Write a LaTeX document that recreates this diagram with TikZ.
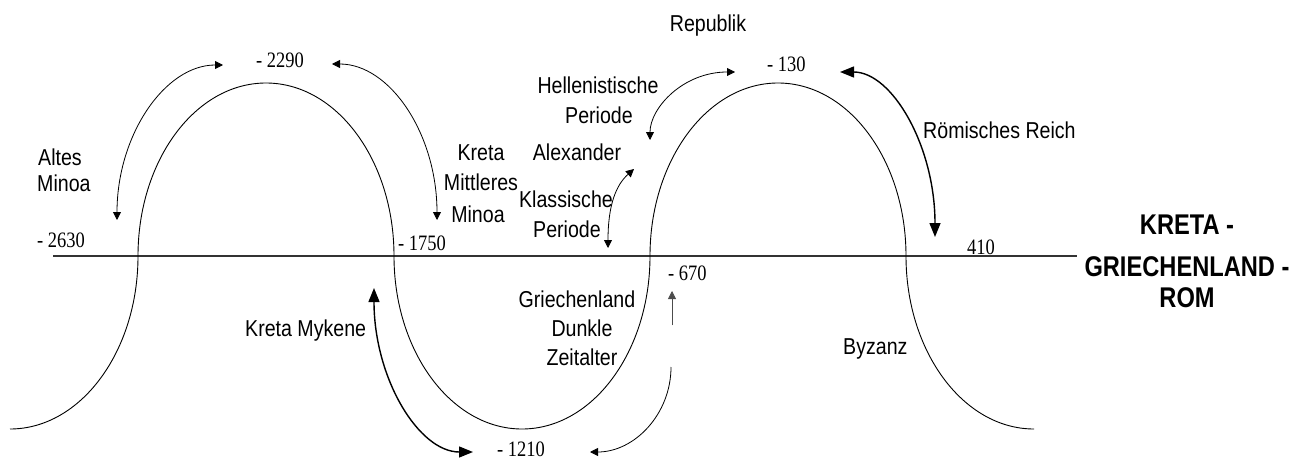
\documentclass[tikz,border=0pt]{standalone}
\usepackage{fontspec}
\setmainfont{Liberation Sans}
\newfontfamily\labfont[FakeStretch=0.852]{Liberation Sans}
\newfontfamily\numfont[FakeStretch=0.84]{Liberation Serif}
\newfontfamily\ttlfont[FakeStretch=0.83]{Liberation Sans}
\usetikzlibrary{arrows.meta}
\begin{document}
\begin{tikzpicture}[x=1pt,y=-1pt,
  lab/.style={font=\labfont\fontsize{23}{27}\selectfont, inner sep=0pt, anchor=base},
  labw/.style={lab, anchor=base west},
  num/.style={font=\numfont\fontsize{22}{26}\selectfont, inner sep=0pt, anchor=base west},
  ttl/.style={font=\ttlfont\bfseries\fontsize{28.5}{34}\selectfont, inner sep=0pt, anchor=base},
  wave/.style={line width=0.9pt},
  axisline/.style={line width=1.5pt, draw=black!80},
  arrsmall/.style={line width=0.8pt, {Triangle[length=8pt,width=8pt]}-{Triangle[length=8pt,width=8pt]}},
  arrbig/.style={line width=1.4pt, {Triangle[length=14pt,width=11pt]}-{Triangle[length=14pt,width=11pt]}},
  arrone/.style={line width=0.8pt, -{Triangle[length=8pt,width=8pt]}}
]
\useasboundingbox (0,0) rectangle (1309,460);

% axis
\coordinate (axL) at (53,256);
\coordinate (axR) at (1077,256);
\draw[axisline] (axL) -- (axR);

% wave
\coordinate (s0) at (10,429);
\coordinate (a1) at (138,256);
\coordinate (t1) at (266,83);
\coordinate (a2) at (394,256);
\coordinate (b1) at (522,429);
\coordinate (a3) at (650,256);
\coordinate (t2) at (778,83);
\coordinate (a4) at (906,256);
\coordinate (e0) at (1034,429);
\draw[wave] (s0) .. controls (80.7,429) and (138,351.5) .. (a1)
  .. controls (138,160.5) and (195.3,83) .. (t1)
  .. controls (336.7,83) and (394,160.5) .. (a2)
  .. controls (394,351.5) and (451.3,429) .. (b1)
  .. controls (592.7,429) and (650,351.5) .. (a3)
  .. controls (650,160.5) and (707.3,83) .. (t2)
  .. controls (848.7,83) and (906,160.5) .. (a4)
  .. controls (906,351.5) and (963.3,429) .. (e0);

% numbers
\node[num] (n2630) at (37,247) {- 2630};
\node[num] (n2290) at (256,67) {- 2290};
\node[num] (n1750) at (398,250) {- 1750};
\node[num] (n1210) at (497,456) {- 1210};
\node[num] (n670) at (668,280) {- 670};
\node[num] (n130) at (767,71) {- 130};
\node[num] (n410) at (967,254) {410};

% labels
\node[labw] (altes1) at (38,165) {Altes};
\node[labw] (altes2) at (37,191) {Minoa};
\node[lab] (kreta1) at (481,160) {Kreta};
\node[lab] (kreta2) at (481,190) {Mittleres};
\node[lab] (kreta3) at (478,222) {Minoa};
\node[lab] (alex) at (577,160) {Alexander};
\node[lab] (klass1) at (566,207) {Klassische};
\node[lab] (klass2) at (567,237) {Periode};
\node[lab] (hell1) at (598,93) {Hellenistische};
\node[lab] (hell2) at (599,123) {Periode};
\node[lab] (rep) at (708,32) {Republik};
\node[labw] (roem) at (923,138) {Römisches Reich};
\node[labw] (myk) at (245,336) {Kreta Mykene};
\node[lab] (gr1) at (577,307) {Griechenland};
\node[lab] (gr2) at (582,336) {Dunkle};
\node[lab] (gr3) at (582,365) {Zeitalter};
\node[labw] (byz) at (843,354) {Byzanz};
\node[ttl] (ti1) at (1187,234) {KRETA -};
\node[ttl] (ti2) at (1187,276) {GRIECHENLAND -};
\node[ttl] (ti3) at (1187,307) {ROM};

% arrows
\coordinate (la1) at (117,220);
\coordinate (la2) at (223,65);
\draw[arrsmall] (la1) .. controls (117,135) and (165,65) .. (la2);

\coordinate (ra1) at (332,64);
\coordinate (ra2) at (437,220);
\draw[arrsmall] (ra1) .. controls (390,64) and (437,134) .. (ra2);

\coordinate (km1) at (473,452);
\coordinate (km2) at (374,288);
\draw[arrbig] (km1) .. controls (418.6,452) and (374,378) .. (km2);

\coordinate (v1) at (672,325);
\coordinate (v2) at (672,291);
\draw[arrone, draw=black!70, fill=black] (v1) -- (v2);

\coordinate (c1) at (671,367);
\coordinate (c2) at (590,452);
\draw[arrone] (c1) .. controls (671,414) and (634.6,452) .. (c2);

\coordinate (k1) at (608,248);
\coordinate (k2) at (634,169);
\draw[arrsmall] (k1) .. controls (608,205) and (616,185) .. (k2);

\coordinate (h1) at (650,140);
\coordinate (h2) at (735,72);
\draw[arrsmall] (h1) .. controls (650,108) and (683,72) .. (h2);

\coordinate (r1) at (840,72);
\coordinate (r2) at (935,237);
\draw[arrbig] (r1) .. controls (892,72) and (935,146) .. (r2);
\end{tikzpicture}
\end{document}
